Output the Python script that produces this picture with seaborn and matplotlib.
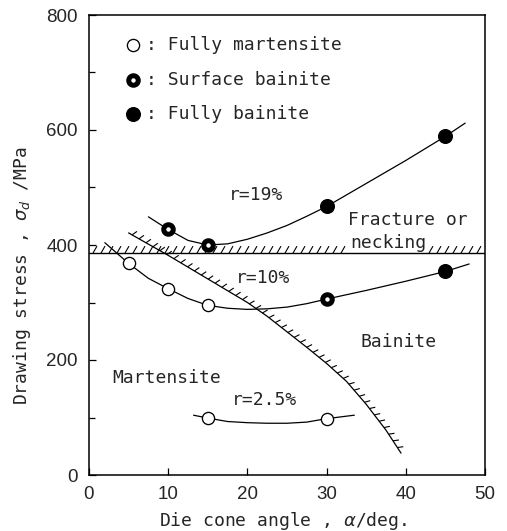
import numpy as np
import pandas as pd
import matplotlib
matplotlib.use("Agg")
import matplotlib.pyplot as plt
from matplotlib.collections import LineCollection
import seaborn as sns

# Measured points: die cone angle (deg) vs drawing stress (MPa), by structure
martensite_angle = [5, 10, 15, 15, 30]
martensite_stress = [368, 324, 295, 99, 98]
surface_angle = [10, 15, 30]
surface_stress = [427, 400, 306]
bainite_angle = [30, 45, 45]
bainite_stress = [467, 589, 354]

# Faired curves for each reduction r
r19_angle = [7.5, 10, 12.5, 15, 17.5, 20, 22.5, 25, 27.5, 30, 32.5, 35, 37.5, 40, 42.5, 45, 47.5]
r19_stress = [449, 427, 408, 400, 402, 410, 421, 434, 450, 467, 487, 507, 527, 547, 568, 589, 612]
r10_angle = [2, 5, 7.5, 10, 12.5, 15, 17.5, 20, 22.5, 25, 27.5, 30, 35, 40, 45, 48]
r10_stress = [404, 368, 342, 324, 307, 295, 290, 288, 289, 292, 298, 306, 321, 337, 354, 367]
r25_angle = [13.2, 15, 17.5, 20, 22.5, 25, 27.5, 30, 33.5]
r25_stress = [104, 99, 93, 91, 90, 90, 92, 98, 104]

# Martensite / bainite boundary and the fracture-or-necking limit
boundary_angle = [5, 10, 15, 20, 22.5, 25, 27.5, 30, 32.5, 35, 37.5, 39.4]
boundary_stress = [421, 382, 341, 300, 276, 249, 222, 194, 163, 123, 78, 38]
fracture_level = 386

x_ticks = [0, 10, 20, 30, 40, 50]
y_ticks = [0, 200, 400, 600, 800]

sns.set_theme(style="ticks")
plt.rcParams["font.family"] = ["DejaVu Sans Mono", "DejaVu Sans"]
plt.rcParams["mathtext.fontset"] = "dejavusans"

fig = plt.figure(figsize=(5.07, 5.31), dpi=100)
ax = fig.add_axes([89 / 507, 56 / 531, 396 / 507, 460 / 531])
ax.set_xlim(0, 50)
ax.set_ylim(0, 800)

line_kw = dict(color="black", linewidth=0.9, sort=False, estimator=None, legend=False)
for xs, ys in [(r19_angle, r19_stress), (r10_angle, r10_stress), (r25_angle, r25_stress),
               (boundary_angle, boundary_stress)]:
    sns.lineplot(x=xs, y=ys, ax=ax, zorder=2, **line_kw)
ax.plot([0, 50], [fracture_level, fracture_level], color="black", linewidth=1.0, zorder=2)


def hatch(xs, ys, spacing=8.0, length=7.5, angle=60.0, skip=None):
    """Short slanted ticks along a polyline, laid out in screen pixels."""
    pts = ax.transData.transform(np.column_stack([xs, ys]))
    seg = np.diff(pts, axis=0)
    seglen = np.hypot(seg[:, 0], seg[:, 1])
    cum = np.concatenate([[0], np.cumsum(seglen)])
    a = np.deg2rad(angle)
    inv = ax.transData.inverted()
    segs = []
    for s in np.arange(spacing / 2, cum[-1], spacing):
        i = min(np.searchsorted(cum, s) - 1, len(seg) - 1)
        i = max(i, 0)
        t = seg[i] / seglen[i]
        p = pts[i] + (s - cum[i]) * t
        d = np.array([t[0] * np.cos(a) - t[1] * np.sin(a), t[0] * np.sin(a) + t[1] * np.cos(a)])
        q = p + length * d
        dp, dq = inv.transform(p), inv.transform(q)
        if skip is not None and skip[0] <= dp[0] <= skip[1]:
            continue
        segs.append([dp, dq])
    ax.add_collection(LineCollection(segs, colors="black", linewidths=0.8, zorder=2))


hatch([0, 50], [fracture_level, fracture_level], spacing=8.0, length=8.0, angle=60, skip=(32.4, 42.8))
hatch(boundary_angle, boundary_stress, spacing=8.0, length=6.0, angle=65)

open_kw = dict(s=77, color="black", facecolor="white", edgecolor="black", linewidth=0.95)
ring_kw = dict(s=47, color="black", facecolor="white", edgecolor="black", linewidth=3.6)
fill_kw = dict(s=117, color="black", facecolor="black", edgecolor="black", linewidth=0)
sns.scatterplot(x=martensite_angle, y=martensite_stress, ax=ax, zorder=4, **open_kw)
sns.scatterplot(x=surface_angle, y=surface_stress, ax=ax, zorder=4, **ring_kw)
sns.scatterplot(x=bainite_angle, y=bainite_stress, ax=ax, zorder=4, **fill_kw)

# Key in the upper-left corner
key_rows = [(0.935, ": Fully martensite", open_kw),
            (0.859, ": Surface bainite", ring_kw),
            (0.785, ": Fully bainite", fill_kw)]
for yk, label, kw in key_rows:
    ax.scatter([0.111], [yk], transform=ax.transAxes, zorder=4, clip_on=False,
               s=kw["s"], facecolor=kw["facecolor"], edgecolor=kw["edgecolor"], linewidth=kw["linewidth"])
    ax.text(0.144, yk, label, transform=ax.transAxes, fontsize=13, ha="left", va="center")

txt = dict(fontsize=13, ha="left", va="center")
ax.text(17.7, 487, "r=19%", **txt)
ax.text(18.5, 343, "r=10%", **txt)
ax.text(18.0, 130, "r=2.5%", **txt)
ax.text(32.7, 443, "Fracture or", **txt)
ax.text(33.0, 403, "necking", **txt)
ax.text(34.3, 231, "Bainite", **txt)
ax.text(2.9, 169, "Martensite", **txt)

ax.set_xticks(x_ticks)
ax.set_yticks(y_ticks)
ax.set_yticks([100, 300, 500, 700], minor=True)
ax.set_xticklabels([str(v) for v in x_ticks], fontfamily="Liberation Sans", fontsize=13.5)
ax.set_yticklabels([str(v) for v in y_ticks], fontfamily="Liberation Sans", fontsize=13.5)
ax.tick_params(axis="both", which="major", direction="in", length=5, width=0.9, color="black")
ax.tick_params(axis="y", which="minor", direction="in", length=4, width=0.9, color="black")
ax.tick_params(axis="x", which="major", pad=8)
ax.tick_params(axis="y", which="major", pad=8)

for sp in ax.spines.values():
    sp.set_visible(True)
    sp.set_color("black")
    sp.set_linewidth(1.1)

ax.set_xlabel(r"Die cone angle , $\alpha$/deg.", fontsize=13)
ax.set_ylabel(r"Drawing stress , $\sigma_d$ /MPa", fontsize=13)
ax.xaxis.set_label_coords(0.49, -0.077)
ax.yaxis.set_label_coords(-0.142, 0.433)

fig.savefig("out.png", dpi=100, facecolor="white")
